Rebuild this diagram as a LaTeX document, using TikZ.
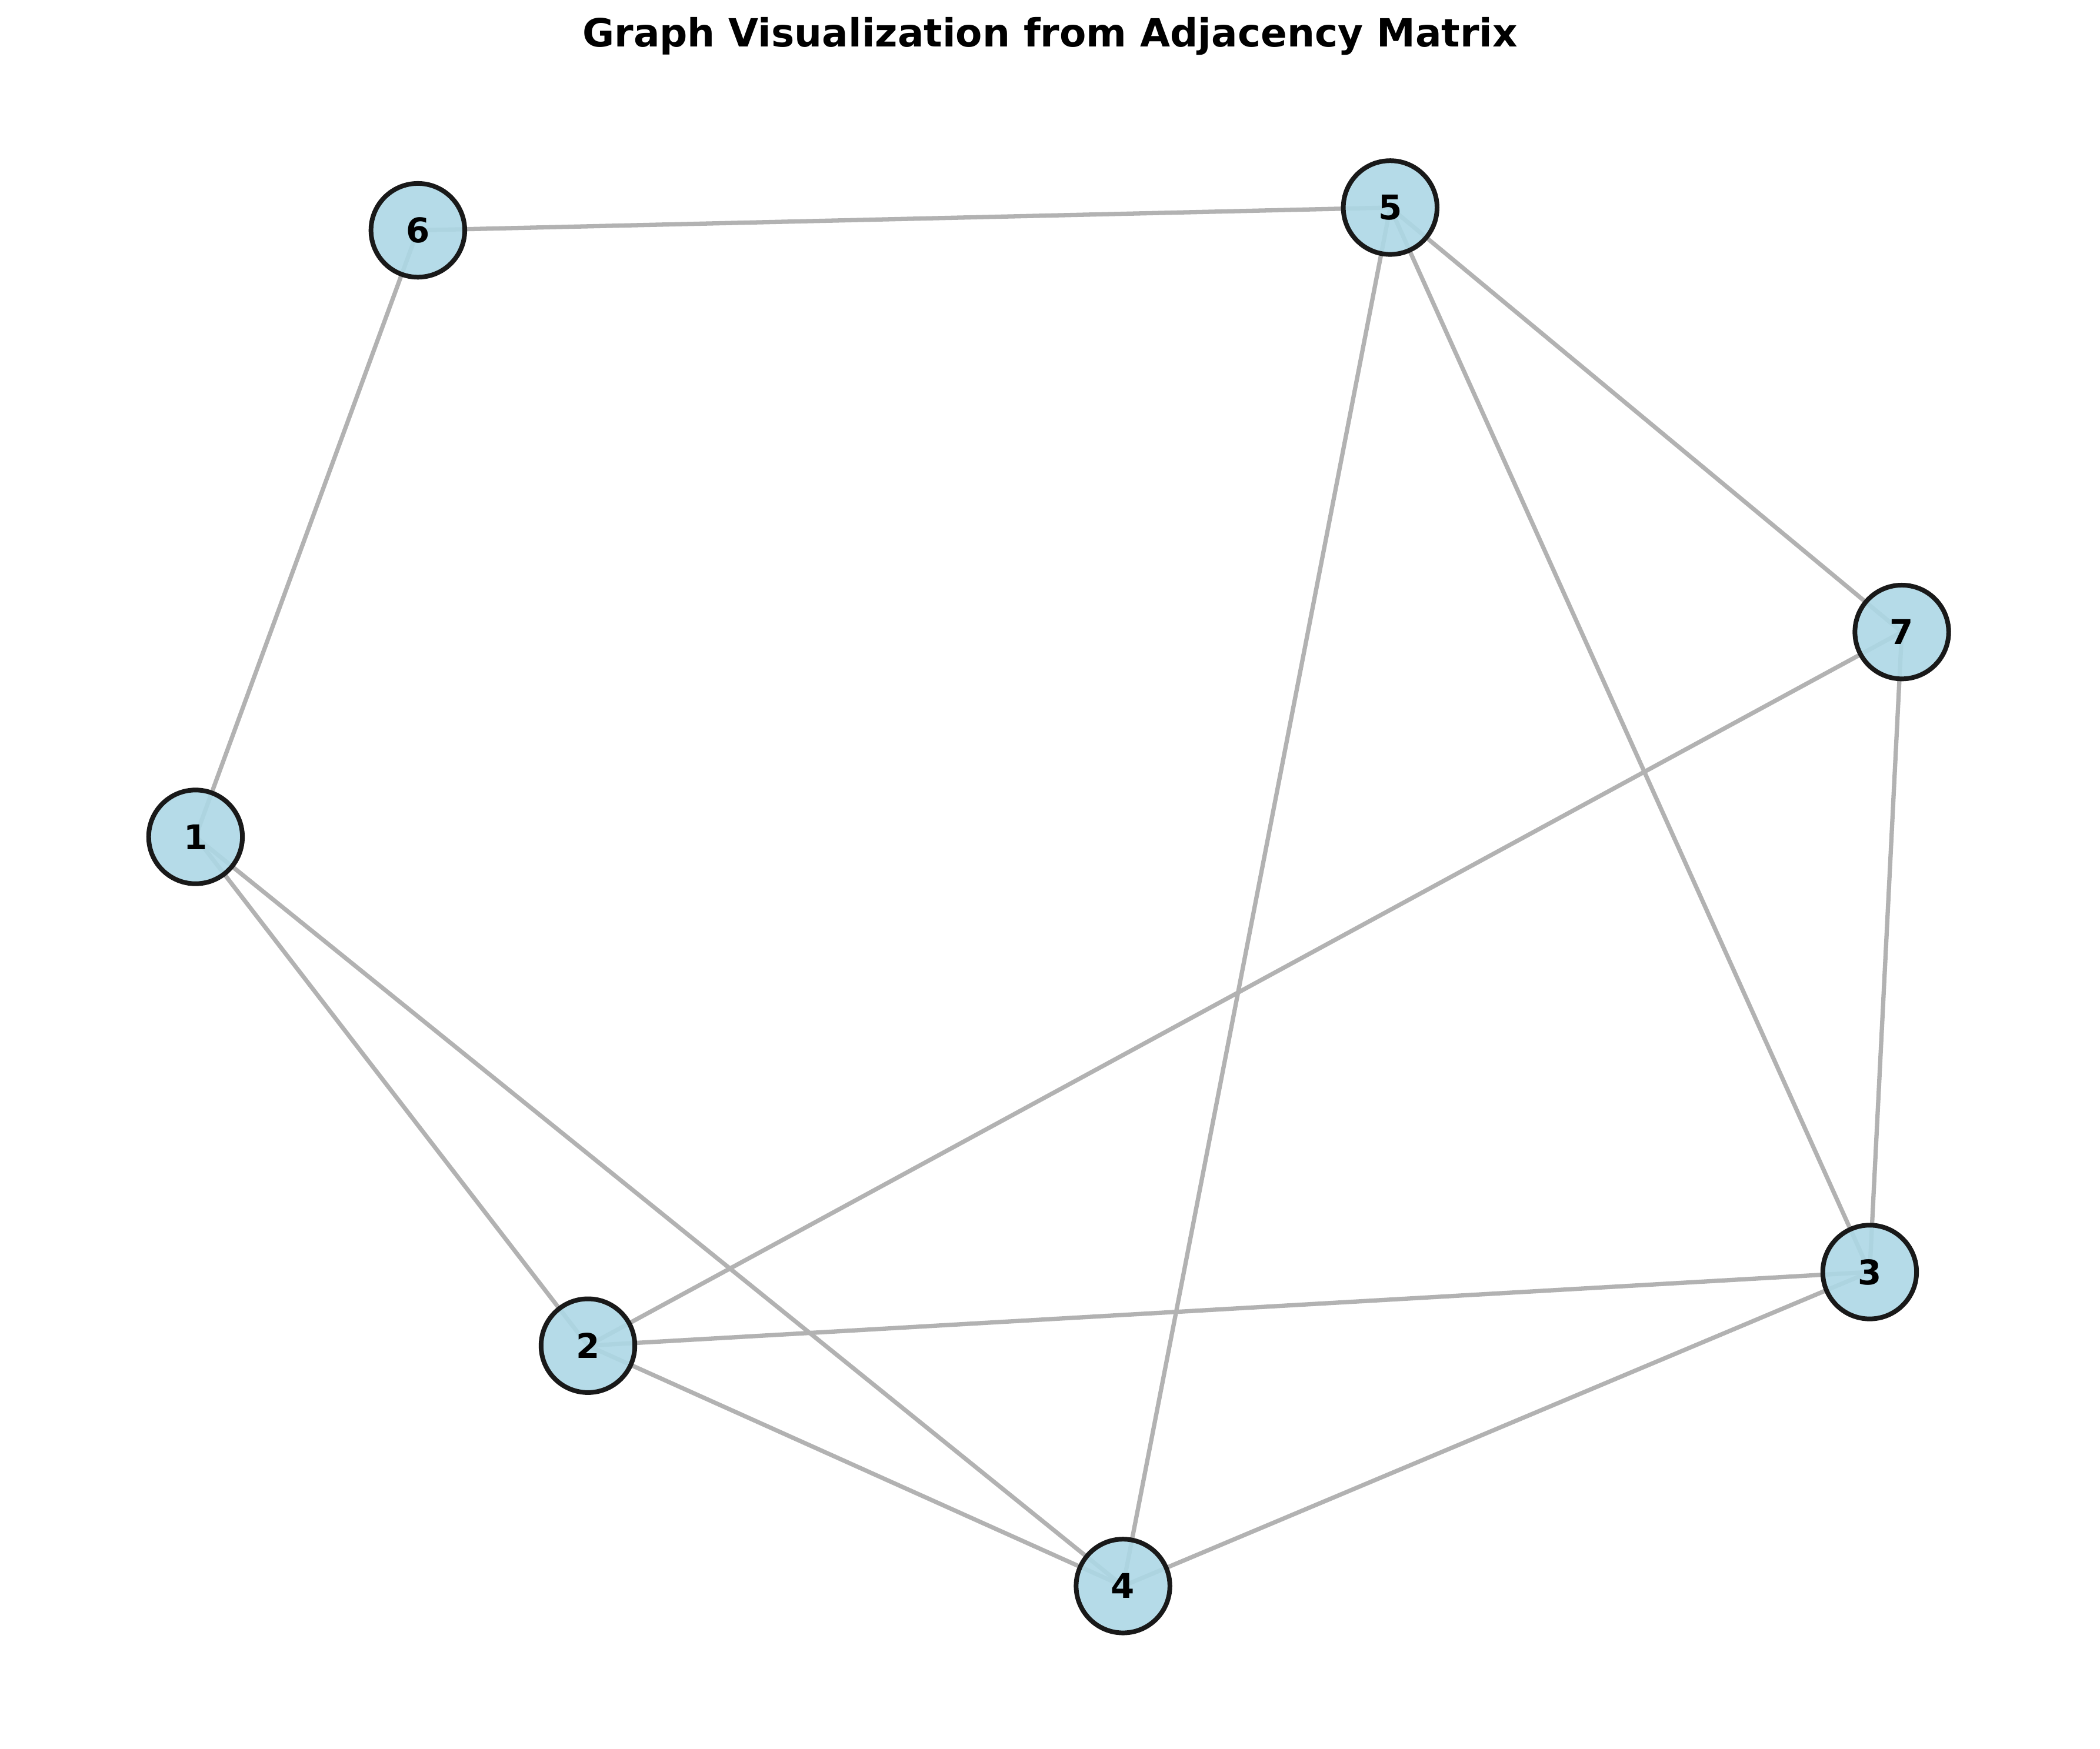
\documentclass[tikz,border=0pt]{standalone}
\usepackage{fontspec}
\setmainfont{DejaVu Sans}
\definecolor{nodefill}{RGB}{173,216,230}
\definecolor{edgegray}{RGB}{178,178,178}
\definecolor{nodeborder}{RGB}{25,25,25}
\begin{document}
\begin{tikzpicture}[x=0.5pt,y=-0.5pt,
  vertex/.style={circle,minimum size=35pt,inner sep=0pt,line width=1.75pt,
    draw=nodeborder,fill=nodefill,fill opacity=0.9,text opacity=1,
    font=\fontsize{12.7}{15}\selectfont\bfseries},
  edge/.style={draw=edgegray,line width=1.6pt}]
\useasboundingbox (0,0) rectangle (1568,1306);
\fill[white] (0,0) rectangle (1568,1306);
\node[font=\fontsize{14.5}{17}\selectfont\bfseries] (title) at (784,27) {Graph Visualization from Adjacency Matrix};
\coordinate (p1) at (146,625);
\coordinate (p2) at (439,1005);
\coordinate (p3) at (1396,950);
\coordinate (p4) at (838.5,1184.5);
\coordinate (p5) at (1038,155);
\coordinate (p6) at (312,172);
\coordinate (p7) at (1420,472);
\foreach \a/\b in {6/5,6/1,5/7,5/4,5/3,7/2,7/3,1/2,1/4,2/3,2/4,4/3}
  \draw[edge] (p\a) -- (p\b);
\foreach \i in {1,...,7}
  \node[vertex] (n\i) at (p\i) {\i};
\end{tikzpicture}
\end{document}
